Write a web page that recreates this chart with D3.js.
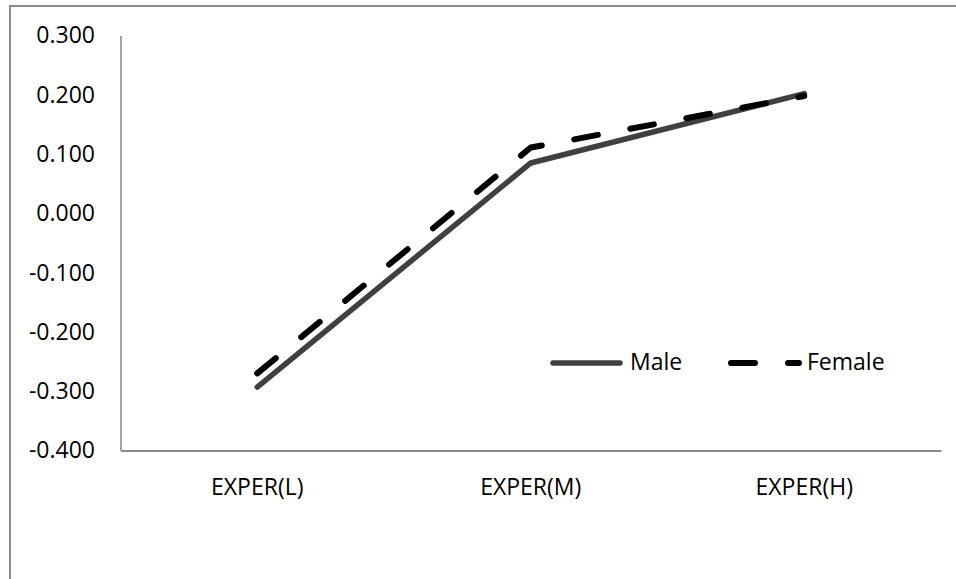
<!DOCTYPE html>
<html>
<head>
<meta charset="utf-8">
<script src="https://cdn.jsdelivr.net/npm/d3@7"></script>
<style>
  html, body { margin: 0; padding: 0; background: #fff; }
  svg { display: block; }
  text { font-family: "Open Sans", "Noto Sans", sans-serif; fill: #000; }
</style>
</head>
<body>
<svg id="chart" width="956" height="579"></svg>
<script>
// Experience levels on the x axis
const categories = ["EXPER(L)", "EXPER(M)", "EXPER(H)"];
// Series values per experience level
const maleValues = [-0.293, 0.085, 0.202];
const femaleValues = [-0.270, 0.111, 0.198];
const seriesNames = ["Male", "Female"];
// Y axis ticks
const yTicks = [-0.4, -0.3, -0.2, -0.1, 0.0, 0.1, 0.2, 0.3];

const series = [
  { name: seriesNames[0], values: maleValues, color: "#404040", width: 5.5, dash: null },
  { name: seriesNames[1], values: femaleValues, color: "#000000", width: 6, dash: "24,33" }
];

const svg = d3.select("#chart");
const plotLeft = 120.5, plotRight = 941, plotTop = 35.5, plotBottom = 450.5;

const x = d3.scaleBand().domain(categories).range([plotLeft, plotRight]);
const xc = c => x(c) + x.bandwidth() / 2;
const y = d3.scaleLinear().domain([-0.4, 0.3]).range([plotBottom, plotTop]);

const fmt = d3.formatLocale({ decimal: ".", thousands: ",", grouping: [3], currency: ["", ""], minus: "-" }).format(".3f");

// Outer chart frame (right and bottom edges fall outside the view)
svg.append("rect")
  .attr("x", 10).attr("y", 6)
  .attr("width", 1000).attr("height", 700)
  .attr("fill", "none").attr("stroke", "#8c8c8c").attr("stroke-width", 2);

// Y axis
const yAxis = svg.append("g")
  .attr("transform", `translate(${plotLeft},0)`)
  .call(d3.axisLeft(y).tickValues(yTicks).tickFormat(fmt).tickSize(0).tickSizeOuter(0).tickPadding(25.5));
yAxis.select(".domain").attr("stroke", "#8c8c8c").attr("stroke-width", 1.6);
yAxis.selectAll("text").attr("font-size", 23).style("font-family", "'Open Sans', sans-serif");

// X axis
const xAxis = svg.append("g")
  .attr("transform", `translate(0,${plotBottom})`)
  .call(d3.axisBottom(x).tickSize(0).tickSizeOuter(0).tickPadding(28));
xAxis.select(".domain").attr("stroke", "#8c8c8c").attr("stroke-width", 2);
xAxis.selectAll("text").attr("font-size", 23).style("font-family", "'Open Sans', sans-serif");

// Lines
const line = d3.line()
  .x((d, i) => xc(categories[i]))
  .y(d => y(d));

series.forEach(s => {
  svg.append("path")
    .datum(s.values)
    .attr("d", line)
    .attr("fill", "none")
    .attr("stroke", s.color)
    .attr("stroke-width", s.width)
    .attr("stroke-linecap", "round")
    .attr("stroke-linejoin", "round")
    .attr("stroke-dasharray", s.dash);
});

// Legend
const legendItems = [
  { s: series[0], x1: 553, x2: 620, tx: 630 },
  { s: series[1], x1: 731, x2: 799, tx: 807 }
];
const legendY = 363;
legendItems.forEach(it => {
  svg.append("line")
    .attr("x1", it.x1).attr("x2", it.x2)
    .attr("y1", legendY).attr("y2", legendY)
    .attr("stroke", it.s.color)
    .attr("stroke-width", it.s.width)
    .attr("stroke-linecap", "round")
    .attr("stroke-dasharray", it.s.dash);
  svg.append("text")
    .attr("x", it.tx).attr("y", 370)
    .attr("font-size", 23)
    .text(it.s.name);
});
</script>
</body>
</html>
